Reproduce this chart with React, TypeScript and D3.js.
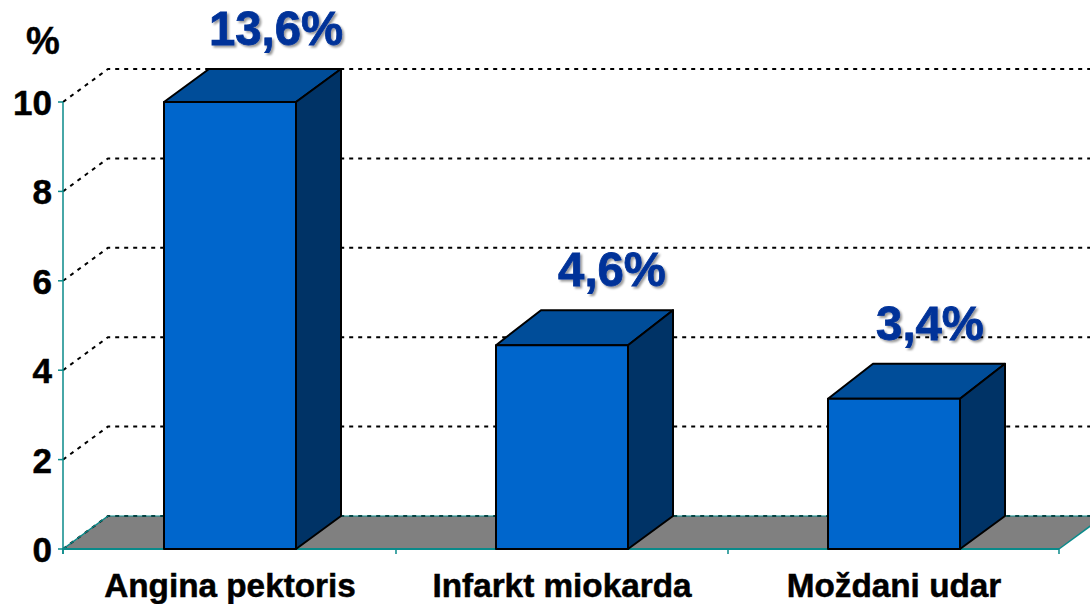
import React from "react";
import * as d3 from "d3";

const categories = ["Angina pektoris", "Infarkt miokarda", "Moždani udar"];
const plotted = [10, 4.56, 3.36];
const valueLabels = ["13,6%", "4,6%", "3,4%"];
const yTicks = [0, 2, 4, 6, 8, 10];
const labelShift = [46, 50, 36];

const W = 1090, H = 604;
const DX = 45, DY = -33, TOP_DY = -35;
const BW = 132;
const y = d3.scaleLinear().domain([0, 10]).range([549, 102]);
const x = d3.scaleBand<string>().domain(categories).range([64, 1060]);
const FONT = "'Liberation Sans', Arial, sans-serif";
const TEAL = "#0a8a8a";

export default function App() {
  const y0 = y(0);
  const poly = (pts: number[][]) => pts.map((p) => p.join(",")).join(" ");
  const xTicks = [63, 396, 728, 1059];
  const backTop = (v: number) => Math.max(y(v) + TOP_DY, y(10) + DY);
  return (
    <svg width={W} height={H} style={{ position: "absolute", left: 0, top: 0, background: "#fff" }}>
      <defs>
        <filter id="sh" x="-10%" y="-10%" width="125%" height="130%">
          <feDropShadow dx="2" dy="2" stdDeviation="1.2" floodColor="#000" floodOpacity="0.4" />
        </filter>
      </defs>
      <polygon points={poly([[63, y0], [63 + DX, y0 + DY], [1059 + DX, y0 + DY], [1059, y0]])} fill="#808080" />
      {yTicks.map((t) => (
        <path
          key={t}
          d={`M${63},${y(t)}L${63 + DX},${y(t) + DY}L${W},${y(t) + DY}`}
          fill="none"
          stroke="#000"
          strokeWidth={2}
          strokeDasharray="4 5"
        />
      ))}
      <line x1={63} x2={63} y1={y(10)} y2={y0 + 5} stroke={TEAL} strokeWidth={1.5} />
      <line x1={63} x2={1059} y1={y0} y2={y0} stroke={TEAL} strokeWidth={2} />
      <line x1={63} x2={63 + DX} y1={y0} y2={y0 + DY} stroke={TEAL} strokeWidth={1.5} />
      <line x1={1059} x2={1059 + DX} y1={y0} y2={y0 + DY} stroke={TEAL} strokeWidth={1.5} />
      <line x1={63 + DX} x2={W} y1={y0 + DY} y2={y0 + DY} stroke={TEAL} strokeWidth={1} />
      {yTicks.map((t) => (
        <line key={t} x1={58} x2={63} y1={y(t)} y2={y(t)} stroke={TEAL} strokeWidth={1.5} />
      ))}
      {xTicks.map((t) => (
        <line key={t} x1={t} x2={t} y1={y0} y2={y0 + 5} stroke={TEAL} strokeWidth={1.5} />
      ))}
      {categories.map((c, i) => {
        const cx = (x(c) as number) + x.bandwidth() / 2;
        const l = cx - BW / 2, r = cx + BW / 2;
        const top = y(plotted[i]);
        const bt = backTop(plotted[i]);
        return (
          <g key={c} stroke="#000" strokeWidth={2} strokeLinejoin="round">
            <polygon points={poly([[l, top], [l + DX, bt], [r + DX, bt], [r, top]])} fill="#004d99" />
            <polygon points={poly([[r, top], [r + DX, bt], [r + DX, y0 + DY], [r, y0]])} fill="#003366" />
            <rect x={l} y={top} width={BW} height={y0 - top} fill="#0066cc" />
          </g>
        );
      })}
      {yTicks.map((t) => (
        <text key={t} x={52} y={y(t) + 13} textAnchor="end" fontFamily={FONT} fontWeight="bold" fontSize={35} fill="#000" stroke="#000" strokeWidth={0.5}>
          {t}
        </text>
      ))}
      <text x={26} y={54} fontFamily={FONT} fontWeight="bold" fontSize={38} fill="#000" stroke="#000" strokeWidth={0.4}>%</text>
      {categories.map((c) => (
        <text
          key={c}
          x={(x(c) as number) + x.bandwidth() / 2}
          y={597}
          textAnchor="middle"
          fontFamily={FONT}
          fontWeight="bold"
          fontSize={33.3}
          fill="#000"
          stroke="#000"
          strokeWidth={0.5}
        >
          {c}
        </text>
      ))}
      {categories.map((c, i) => (
        <text
          key={c}
          x={(x(c) as number) + x.bandwidth() / 2 + labelShift[i]}
          y={backTop(plotted[i]) - 24}
          textAnchor="middle"
          fontFamily={FONT}
          fontWeight="bold"
          fontSize={47.3}
          fill="#003399"
          stroke="#003399"
          strokeWidth={0.8}
          filter="url(#sh)"
        >
          {valueLabels[i]}
        </text>
      ))}
    </svg>
  );
}
